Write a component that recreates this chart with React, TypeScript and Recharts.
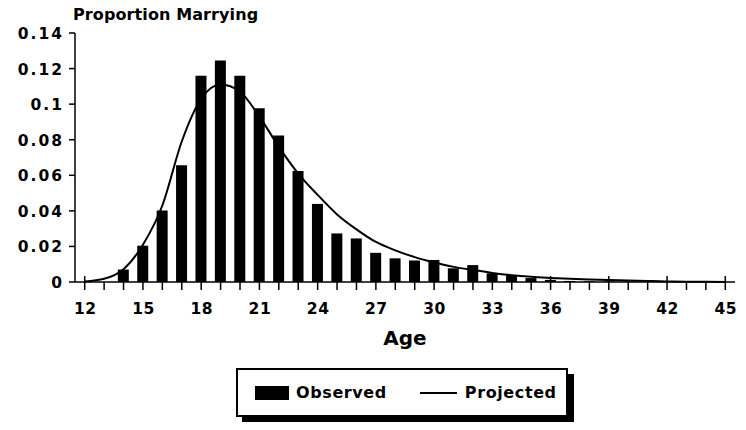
import React from "react";
import { ComposedChart, Bar, Line, XAxis, YAxis, Legend } from "recharts";

const ages = [12, 13, 14, 15, 16, 17, 18, 19, 20, 21, 22, 23, 24, 25, 26, 27, 28, 29, 30, 31, 32, 33, 34, 35, 36, 37, 38, 39, 40, 41, 42, 43, 44, 45];
const observed = [0, 0, 0.007, 0.0204, 0.0402, 0.0656, 0.116, 0.1246, 0.116, 0.0977, 0.0823, 0.0624, 0.0439, 0.0273, 0.0245, 0.0164, 0.0133, 0.0121, 0.0124, 0.0077, 0.0095, 0.0049, 0.0038, 0.0022, 0.0012, 0.0006, 0.0004, 0.0003, 0.0002, 0.0001, 0, 0, 0, 0];
const projected = [0.0003, 0.0018, 0.0072, 0.021, 0.043, 0.079, 0.103, 0.111, 0.107, 0.093, 0.076, 0.061, 0.049, 0.038, 0.0296, 0.0225, 0.0178, 0.014, 0.011, 0.0085, 0.0067, 0.0051, 0.0038, 0.0029, 0.0023, 0.0018, 0.0014, 0.0011, 0.0009, 0.0006, 0.0003, 0.0002, 0.0001, 0];
const yTicks = [0, 0.02, 0.04, 0.06, 0.08, 0.1, 0.12, 0.14];

const data = ages.map((age, i) => ({ age, Observed: observed[i], Projected: projected[i] }));

const FONT = "'DejaVu Sans', 'Liberation Sans', Arial, sans-serif";

const XTick = (props: any) => {
  const { x, y, payload } = props;
  const v = Number(payload.value);
  const major = (v - 12) % 3 === 0;
  return (
    <g>
      <line x1={x} x2={x} y1={major ? y - 6 : y} y2={y + 8} stroke="#000" strokeWidth={1.5} />
      {major && (
        <text x={x + 0.5} y={y + 32} textAnchor="middle" fontFamily={FONT} fontWeight="bold" fontSize={15.5} letterSpacing={0.5} fill="#000">
          {v}
        </text>
      )}
    </g>
  );
};

const YTick = (props: any) => {
  const { x, y, payload } = props;
  const v = Number(payload.value);
  return (
    <g>
      <line x1={x - 6} x2={x} y1={y} y2={y} stroke="#000" strokeWidth={1.5} />
      <text x={x - 11} y={y + 6} textAnchor="end" fontFamily={FONT} fontWeight="bold" fontSize={15.5} letterSpacing={2} fill="#000">
        {String(v)}
      </text>
    </g>
  );
};

const renderLegend = (props: any) => {
  const payload = props.payload || [];
  return (
    <div
      style={{
        boxSizing: "border-box",
        width: 332,
        height: 49,
        border: "2px solid #000",
        boxShadow: "6px 6px 0 #000",
        background: "#fff",
        display: "flex",
        alignItems: "center",
        paddingLeft: 17,
        fontFamily: FONT,
        fontWeight: "bold",
        fontSize: 16,
        letterSpacing: 0.6,
        color: "#000",
      }}
    >
      {payload.map((entry: any, i: number) => (
        <div key={i} style={{ display: "flex", alignItems: "center", marginRight: i === 0 ? 33 : 0 }}>
          {entry.type === "line" ? (
            <div style={{ width: 37, height: 2, background: "#000", marginRight: 8 }} />
          ) : (
            <div style={{ width: 34, height: 14, background: "#000", marginRight: 7 }} />
          )}
          <span>{entry.value}</span>
        </div>
      ))}
    </div>
  );
};

export default function App() {
  return (
    <div style={{ width: 730, height: 422, marginTop: -8 }}>
      <ComposedChart width={730} height={422} data={data} margin={{ top: 33, right: 3, bottom: 110, left: 0 }}>
        <XAxis
          dataKey="age"
          type="category"
          interval={0}
          tickSize={0}
          tickMargin={0}
          height={30}
          axisLine={{ stroke: "#000", strokeWidth: 1.5 }}
          tickLine={false}
          tick={<XTick />}
          label={(p: any) => {
            const vb = p.viewBox || {};
            return (
              <text x={vb.x + vb.width / 2} y={vb.y + 63} textAnchor="middle" fontFamily={FONT} fontWeight="bold" fontSize={20} fill="#000">
                Age
              </text>
            );
          }}
        />
        <YAxis
          type="number"
          domain={[0, 0.14]}
          ticks={yTicks}
          interval={0}
          width={67}
          tickSize={0}
          tickMargin={0}
          axisLine={{ stroke: "#000", strokeWidth: 1.5 }}
          tickLine={false}
          tick={<YTick />}
          label={(p: any) => {
            const vb = p.viewBox || {};
            return (
              <text x={vb.x + vb.width - 2} y={vb.y - 13} textAnchor="start" fontFamily={FONT} fontWeight="bold" fontSize={16} letterSpacing={0.1} fill="#000">
                Proportion Marrying
              </text>
            );
          }}
        />
        <Legend
          layout="horizontal"
          verticalAlign="middle"
          align="center"
          content={renderLegend}
          wrapperStyle={{ left: 228, top: 368, width: 340, height: 56 }}
        />
        <Bar dataKey="Observed" name="Observed" fill="#000" barSize={11} isAnimationActive={false} legendType="rect" />
        <Line dataKey="Projected" name="Projected" type="monotone" stroke="#000" strokeWidth={2} dot={false} activeDot={false} isAnimationActive={false} legendType="line" />
      </ComposedChart>
    </div>
  );
}
